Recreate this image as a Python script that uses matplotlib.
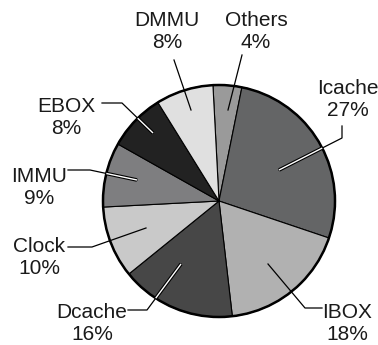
import matplotlib.pyplot as plt
from matplotlib.patches import Circle

# Share of power by unit
units = ["Others", "Icache", "IBOX", "Dcache", "Clock", "IMMU", "EBOX", "DMMU"]
shares = [4, 27, 18, 16, 10, 9, 8, 8]
greys = ["#9a9a9a", "#646566", "#b1b1b1", "#474747", "#c9c9c9", "#7e7e80", "#222222", "#e0e0e0"]
dark = [False, True, False, True, False, True, True, False]

# label centre, leader path (text end -> elbow -> point inside the slice), pixel coords
label_xy = [(256, 31), (348, 99), (347, 323), (92, 323), (39, 257), (39, 187), (66, 118), (167, 31)]
leaders = [
    [(242, 55), (228, 110)],
    [(342, 126), (342, 138), (279, 170)],
    [(322, 308), (305, 308), (268, 264)],
    [(128, 310), (147, 310), (181, 264)],
    [(68, 247), (92, 247), (146, 228)],
    [(68, 170), (90, 170), (137, 180)],
    [(102, 103), (122, 103), (153, 133)],
    [(174, 60), (191, 110)],
]

W, H = 378, 345
cx, cy, R = 219, 201, 116

fig = plt.figure(figsize=(W / 100, H / 100), dpi=100)
ax = fig.add_axes([0, 0, 1, 1])

wedges, _ = ax.pie(shares, colors=greys, startangle=93, counterclock=False,
                   center=(cx, H - cy), radius=R, frame=True,
                   wedgeprops=dict(edgecolor="black", linewidth=0.8))
ax.set_xlim(0, W)
ax.set_ylim(0, H)
ax.set_aspect("equal")
ax.axis("off")
ax.add_patch(Circle((cx, H - cy), R, fill=False, edgecolor="black", linewidth=1.8, zorder=3))

for name, pct, (tx, ty), path, w, is_dark in zip(units, shares, label_xy, leaders, wedges, dark):
    ax.text(tx, H - ty, f"{name}\n{pct}%", ha="center", va="center", fontsize=15,
            family="Liberation Sans", linespacing=1.2, color="#1a1a1a")
    xs = [p[0] for p in path]
    ys = [H - p[1] for p in path]
    ax.plot(xs, ys, color="black", linewidth=0.9, zorder=4)
    if is_dark:
        # white core where the leader crosses a dark slice
        for lw, c in [(2.6, "black"), (1.0, "white")]:
            ln, = ax.plot(xs[-2:], ys[-2:], color=c, linewidth=lw, zorder=5,
                          solid_capstyle="butt")
            ln.set_clip_path(w)

fig.savefig("out.png", dpi=100)
